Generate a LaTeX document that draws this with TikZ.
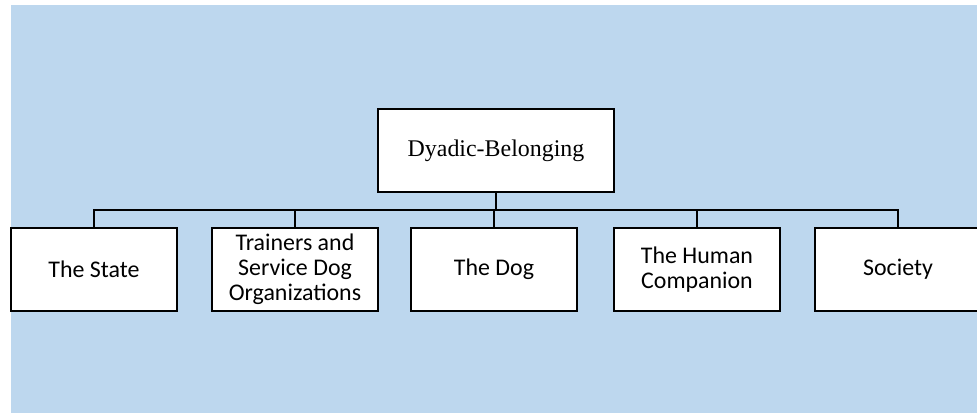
\documentclass[tikz,border=0pt]{standalone}
\usepackage{fontspec}
\setmainfont{Liberation Serif}
\newfontfamily\calibri{Carlito}
\definecolor{bgblue}{HTML}{BDD7EE}
\tikzset{
  topbox/.style={draw,fill=white,line width=1.6bp,minimum width=236bp,minimum height=83bp,
    font=\fontsize{24}{25}\selectfont},
  childbox/.style={draw,fill=white,line width=1.6bp,minimum width=166bp,minimum height=83bp,
    align=center,inner sep=1bp,font=\calibri\fontsize{24}{25}\selectfont},
  link/.style={line width=1.6bp}
}
\begin{document}
\begin{tikzpicture}[x=1bp,y=-1bp]
            \useasboundingbox (0,0) rectangle (977,413);
            \fill[bgblue] (11,5) rectangle (977,413);
            \node[topbox] (dyad) at (496,150.5) {Dyadic-Belonging};
            \node[childbox] (state) at (94,269.5) {The State};
            \node[childbox] (trainers) at (295,269.5) {Trainers and\\Service Dog\\Organizations};
            \node[childbox] (dog) at (494,269.5) {The Dog};
            \node[childbox] (human) at (697,269.5) {The Human\\Companion};
            \node[childbox] (society) at (898,269.5) {Society};
            \coordinate (bus) at (496,210);
            \draw[link] (dyad.south) -- (bus);
            \foreach \c in {state,trainers,dog,human,society}
                \draw[link] (bus) -| (\c.north);
        \end{tikzpicture}
\end{document}
